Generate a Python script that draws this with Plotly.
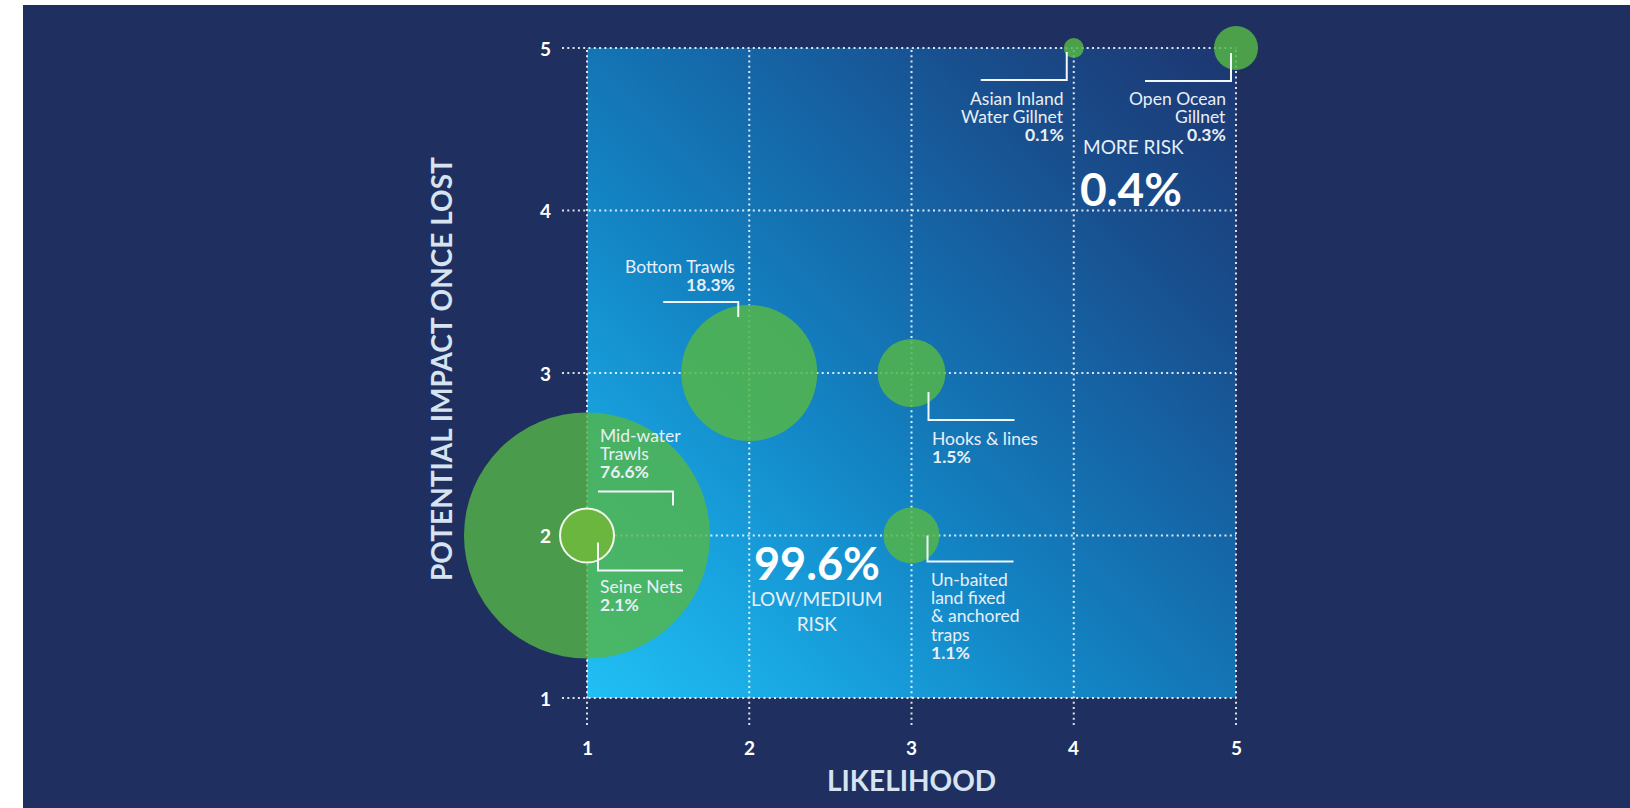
import numpy as np
import plotly.graph_objects as go

# ---------------- data ----------------
GEAR_LINES = [
    ["Mid-water", "Trawls"],
    ["Bottom Trawls"],
    ["Seine Nets"],
    ["Hooks & lines"],
    ["Un-baited", "land fixed", "& anchored", "traps"],
    ["Asian Inland", "Water Gillnet"],
    ["Open Ocean", "Gillnet"],
]
LIKELIHOOD = [1, 2, 1, 3, 3, 4, 5]
IMPACT = [2, 3, 2, 3, 2, 5, 5]
SHARE_PCT = [76.6, 18.3, 2.1, 1.5, 1.1, 0.1, 0.3]
RISK_GROUP = ["low", "low", "low", "low", "low", "more", "more"]
AXIS_TICKS = [1, 2, 3, 4, 5]
X_TITLE = "LIKELIHOOD"
Y_TITLE = "POTENTIAL IMPACT ONCE LOST"
LOW_LABEL = "LOW/MEDIUM<br>RISK"
MORE_LABEL = "MORE RISK"

# ---------------- styles ----------------
W, H = 1630, 808
NAVY = "#1f3060"
FONT = "Lato"
TXT = "#e8eff7"
LABEL_SIZE = 17.5
# bubble diameters (px), colours
DIAM = [246, 136, 54, 68, 56, 20, 44]
FILL = ["rgba(85,182,70,0.80)", "rgba(85,182,70,0.84)", "#6ab63f",
        "rgba(85,182,70,0.84)", "rgba(85,182,70,0.84)", "rgba(85,182,70,0.84)",
        "rgba(85,182,70,0.84)"]
OUTLINE = [0, 0, 2, 0, 0, 0, 0]
# label placement relative to bubble centre (px, y up): dx, first-line dy, align
LABEL_POS = [
    (11, 100, "left"),
    (-12, 107, "right"),
    (11, -51, "left"),
    (18, -65, "left"),
    (17, -44, "left"),
    (-8, -50, "right"),
    (-8, -50, "right"),
]
LINE_STEP = 18.2
LEADERS = [
    "M 11 44 L 86 44 L 86 30",
    "M -11 56 L -11 71 L -86 71",
    "M 11 -7 L 11 -35 L 96 -35",
    "M 17 -19 L 17 -47 L 103 -47",
    "M 16 0 L 16 -26 L 102 -26",
    "M -7 -4 L -7 -32 L -93 -32",
    "M -5 -5 L -5 -33 L -91 -33",
]

# pixel geometry of the grid square
PX_X1, PX_X5 = 587, 1236
PX_Y5, PX_Y1 = 48, 698
ux = (PX_X5 - PX_X1) / 4.0
uy = (PX_Y1 - PX_Y5) / 4.0
x_range = [1 - PX_X1 / ux, 1 + (W - PX_X1) / ux]
y_range = [1 - (H - PX_Y1) / uy, 5 + PX_Y5 / uy]

fig = go.Figure()

# gradient square (background style)
N = 80
lo, hi = min(AXIS_TICKS), max(AXIS_TICKS)
cx = lo + (hi - lo) * (np.arange(N) + 0.5) / N
cy = lo + (hi - lo) * (np.arange(N) + 0.5) / N
gx, gy = np.meshgrid(cx, cy)
gz = (gx - lo) + (gy - lo)
fig.add_trace(go.Heatmap(
    x=cx, y=cy, z=gz, zmin=0, zmax=2 * (hi - lo), zsmooth="best", showscale=False,
    hoverinfo="skip",
    colorscale=[[0.0, "#21c0f4"], [0.2, "#18a3df"], [0.4, "#1383c3"], [0.5, "#1475b5"],
                [0.65, "#1660a1"], [0.8, "#194c8b"], [1.0, "#1d3670"]],
))

# dotted grid with outside stubs
stub_x = 25 / ux
stub_y = 27 / uy
gxs, gys = [], []
for v in AXIS_TICKS:
    gxs += [v, v, None]
    gys += [lo - stub_y, hi, None]
    gxs += [lo - stub_x, hi, None]
    gys += [v, v, None]
fig.add_trace(go.Scatter(x=gxs, y=gys, mode="lines", hoverinfo="skip",
                         line=dict(color="rgba(255,255,255,0.85)", width=2, dash="2px,3.3px")))

# bubbles
for i in range(len(LIKELIHOOD)):
    fig.add_trace(go.Scatter(
        x=[LIKELIHOOD[i]], y=[IMPACT[i]], mode="markers", hoverinfo="skip",
        marker=dict(size=DIAM[i], color=FILL[i],
                    line=dict(color="#f4f8ec", width=OUTLINE[i])),
        cliponaxis=False,
    ))

shapes = [dict(type="rect", xref="paper", yref="paper", x0=23 / W, x1=1, y0=0, y1=1 - 5 / H,
               fillcolor=NAVY, line=dict(width=0), layer="below")]
annotations = []

for i in range(len(LIKELIHOOD)):
    shapes.append(dict(type="path", xref="x", yref="y", xsizemode="pixel", ysizemode="pixel",
                       xanchor=LIKELIHOOD[i], yanchor=IMPACT[i], path=LEADERS[i],
                       line=dict(color="#f2f6fa", width=2), layer="above"))
    dx, dy, align = LABEL_POS[i]
    lines = GEAR_LINES[i] + [f"<b>{SHARE_PCT[i]:.1f}%</b>"]
    for k, t in enumerate(lines):
        annotations.append(dict(
            x=LIKELIHOOD[i], y=IMPACT[i], xref="x", yref="y", text=t, showarrow=False,
            xanchor=align, yanchor="middle", xshift=dx, yshift=dy - k * LINE_STEP,
            font=dict(family=FONT, size=LABEL_SIZE, color=TXT)))

# tick labels
for v in AXIS_TICKS:
    annotations.append(dict(x=v, y=lo, xref="x", yref="y", text=f"<b>{v}</b>", showarrow=False,
                            yshift=-49, font=dict(family=FONT, size=19, color="white")))
    annotations.append(dict(x=lo, y=v, xref="x", yref="y", text=f"<b>{v}</b>", showarrow=False,
                            xshift=-42, font=dict(family=FONT, size=19, color="white")))

# axis titles
annotations.append(dict(x=(lo + hi) / 2, y=lo, xref="x", yref="y", text=f"<b>{X_TITLE}</b>",
                        showarrow=False, yshift=-82,
                        font=dict(family=FONT, size=28, color="#d6e3f1")))
annotations.append(dict(x=lo, y=(lo + hi) / 2, xref="x", yref="y", text=f"<b>{Y_TITLE}</b>",
                        showarrow=False, xshift=-146, yshift=4, textangle=-90,
                        font=dict(family=FONT, size=28, color="#d6e3f1")))

# group totals
low_total = sum(s for s, g in zip(SHARE_PCT, RISK_GROUP) if g == "low")
more_total = sum(s for s, g in zip(SHARE_PCT, RISK_GROUP) if g == "more")
annotations.append(dict(x=2, y=2, xref="x", yref="y", text=f"<b>{low_total:.1f}%</b>",
                        showarrow=False, xshift=68, yshift=-27,
                        font=dict(family=FONT, size=45, color="white")))
annotations.append(dict(x=2, y=2, xref="x", yref="y", text=LOW_LABEL,
                        showarrow=False, xshift=68, yshift=-75,
                        font=dict(family=FONT, size=19, color=TXT)))
annotations.append(dict(x=4, y=4, xref="x", yref="y", text=MORE_LABEL, xanchor="left",
                        showarrow=False, xshift=7, yshift=64,
                        font=dict(family=FONT, size=19, color=TXT)))
annotations.append(dict(x=4, y=4, xref="x", yref="y", text=f"<b>{more_total:.1f}%</b>",
                        xanchor="left", showarrow=False, xshift=4, yshift=22,
                        font=dict(family=FONT, size=46, color="white")))

fig.update_layout(
    width=W, height=H, margin=dict(l=0, r=0, t=0, b=0, pad=0),
    paper_bgcolor="white", plot_bgcolor="rgba(0,0,0,0)",
    showlegend=False, hovermode=False,
    xaxis=dict(range=x_range, visible=False, fixedrange=True),
    yaxis=dict(range=y_range, visible=False, fixedrange=True),
    shapes=shapes, annotations=annotations,
)

fig.write_html("out.html", config={"displayModeBar": False},
               post_script="document.body.style.margin='0px';document.body.style.overflow='hidden';")
